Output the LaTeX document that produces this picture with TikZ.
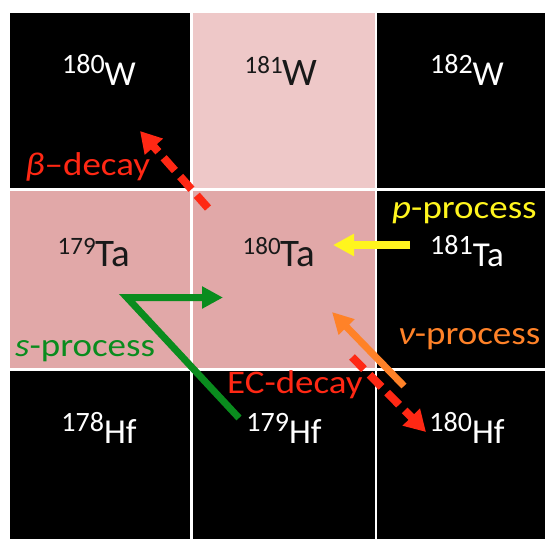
\documentclass[tikz,border=0pt]{standalone}
\usepackage{fontspec}
\setmainfont{Carlito}
\newfontfamily\lblfont{Carlito}[FakeStretch=1.12]
\usetikzlibrary{arrows.meta}
\definecolor{pinkL}{RGB}{238,200,200}
\definecolor{pinkD}{RGB}{225,168,168}
\definecolor{cred}{RGB}{255,40,20}
\definecolor{cgreen}{RGB}{10,140,30}
\definecolor{cyellow}{RGB}{255,245,30}
\definecolor{corange}{RGB}{255,130,40}
\definecolor{ink}{RGB}{25,25,25}
\newcommand\isoB[2]{{\fontsize{25}{25}\selectfont\raisebox{12pt}{#1}}{\fontsize{39}{39}\selectfont #2}}
\newcommand\isoW[2]{{\fontsize{28}{28}\selectfont\raisebox{12pt}{#1}}{\fontsize{35}{35}\selectfont #2}}
\tikzset{
  cellbox/.style={draw=none, inner sep=0pt, outer sep=0pt, anchor=north west},
  wlbl/.style={text=white, anchor=base, inner sep=0pt},
  blbl/.style={text=ink, anchor=base, inner sep=0pt},
  proclbl/.style={anchor=base west, inner sep=0pt, font=\lblfont\fontsize{33}{33}\selectfont},
  tipR/.style={-{Triangle[length=21pt,width=23pt]}},
  tipS/.style={-{Triangle[length=21pt,width=21pt]}},
  dashline/.style={dash pattern=on 17pt off 8pt},
}
\begin{document}
\begin{tikzpicture}[x=1pt,y=-1pt]
\useasboundingbox (0,0) rectangle (545,539);
\fill[white] (0,0) rectangle (545,539);
% cells
\node[cellbox, fill=black, minimum width=180pt, minimum height=175pt] (c11) at (10,13) {};
\node[cellbox, fill=pinkL, minimum width=182.5pt, minimum height=175pt] (c12) at (192.5,13) {};
\node[cellbox, fill=black, minimum width=168pt, minimum height=175pt] (c13) at (377,13) {};
\node[cellbox, fill=pinkD, minimum width=180pt, minimum height=177.5pt] (c21) at (10,190.5) {};
\node[cellbox, fill=pinkD, minimum width=182.5pt, minimum height=177.5pt] (c22) at (192.5,190.5) {};
\node[cellbox, fill=black, minimum width=168pt, minimum height=177.5pt] (c23) at (377,190.5) {};
\node[cellbox, fill=black, minimum width=180pt, minimum height=168.5pt] (c31) at (10,370.5) {};
\node[cellbox, fill=black, minimum width=182.5pt, minimum height=168.5pt] (c32) at (192.5,370.5) {};
\node[cellbox, fill=black, minimum width=168pt, minimum height=168.5pt] (c33) at (377,370.5) {};
% arrow end points
\coordinate (b0) at (208,208);
\coordinate (b1) at (140,131);
\coordinate (e0) at (352,357);
\coordinate (e1) at (426,432);
\coordinate (n0) at (404,386);
\coordinate (n1) at (332,312);
\coordinate (p0) at (410,245);
\coordinate (p1) at (333,245);
\coordinate (s0) at (239,418);
\coordinate (s1) at (127,297.5);
\coordinate (s2) at (223,297.5);
% arrows
\draw[cred, line width=8pt, dashline, tipR] (b0) -- (b1);
\draw[cred, line width=8pt, dashline, tipR] (e0) -- (e1);
\draw[corange, line width=7pt, tipS] (n0) -- (n1);
\draw[cyellow, line width=8pt, tipS] (p0) -- (p1);
\draw[cgreen, line width=7pt, tipS] (s0) -- (s1) -- (s2);
% isotope labels
\node[wlbl] (w180) at (99,85) {\isoW{180}{W}};
\node[blbl] (w181) at (281,85) {\isoB{181}{W}};
\node[wlbl] (w182) at (467,85) {\isoW{182}{W}};
\node[blbl] (ta179) at (94,266) {\isoB{179}{Ta}};
\node[blbl] (ta180) at (279,266) {\isoB{180}{Ta}};
\node[wlbl] (ta181) at (467,266) {\isoW{181}{Ta}};
\node[wlbl] (hf178) at (99,443) {\isoW{178}{Hf}};
\node[wlbl] (hf179) at (284,443) {\isoW{179}{Hf}};
\node[wlbl] (hf180) at (467,443) {\isoW{180}{Hf}};
% process labels
\node[proclbl, text=cred] (lbeta) at (25,175) {{\itshape β}–decay};
\node[proclbl, text=cgreen] (lsp) at (15,356) {{\itshape s}-process};
\node[proclbl, text=cyellow] (lpp) at (392,218) {{\itshape p}-process};
\node[proclbl, text=corange] (lnu) at (398,344) {{\itshape ν}-process};
\node[proclbl, text=cred] (lec) at (227,393) {EC-decay};
\end{tikzpicture}
\end{document}
